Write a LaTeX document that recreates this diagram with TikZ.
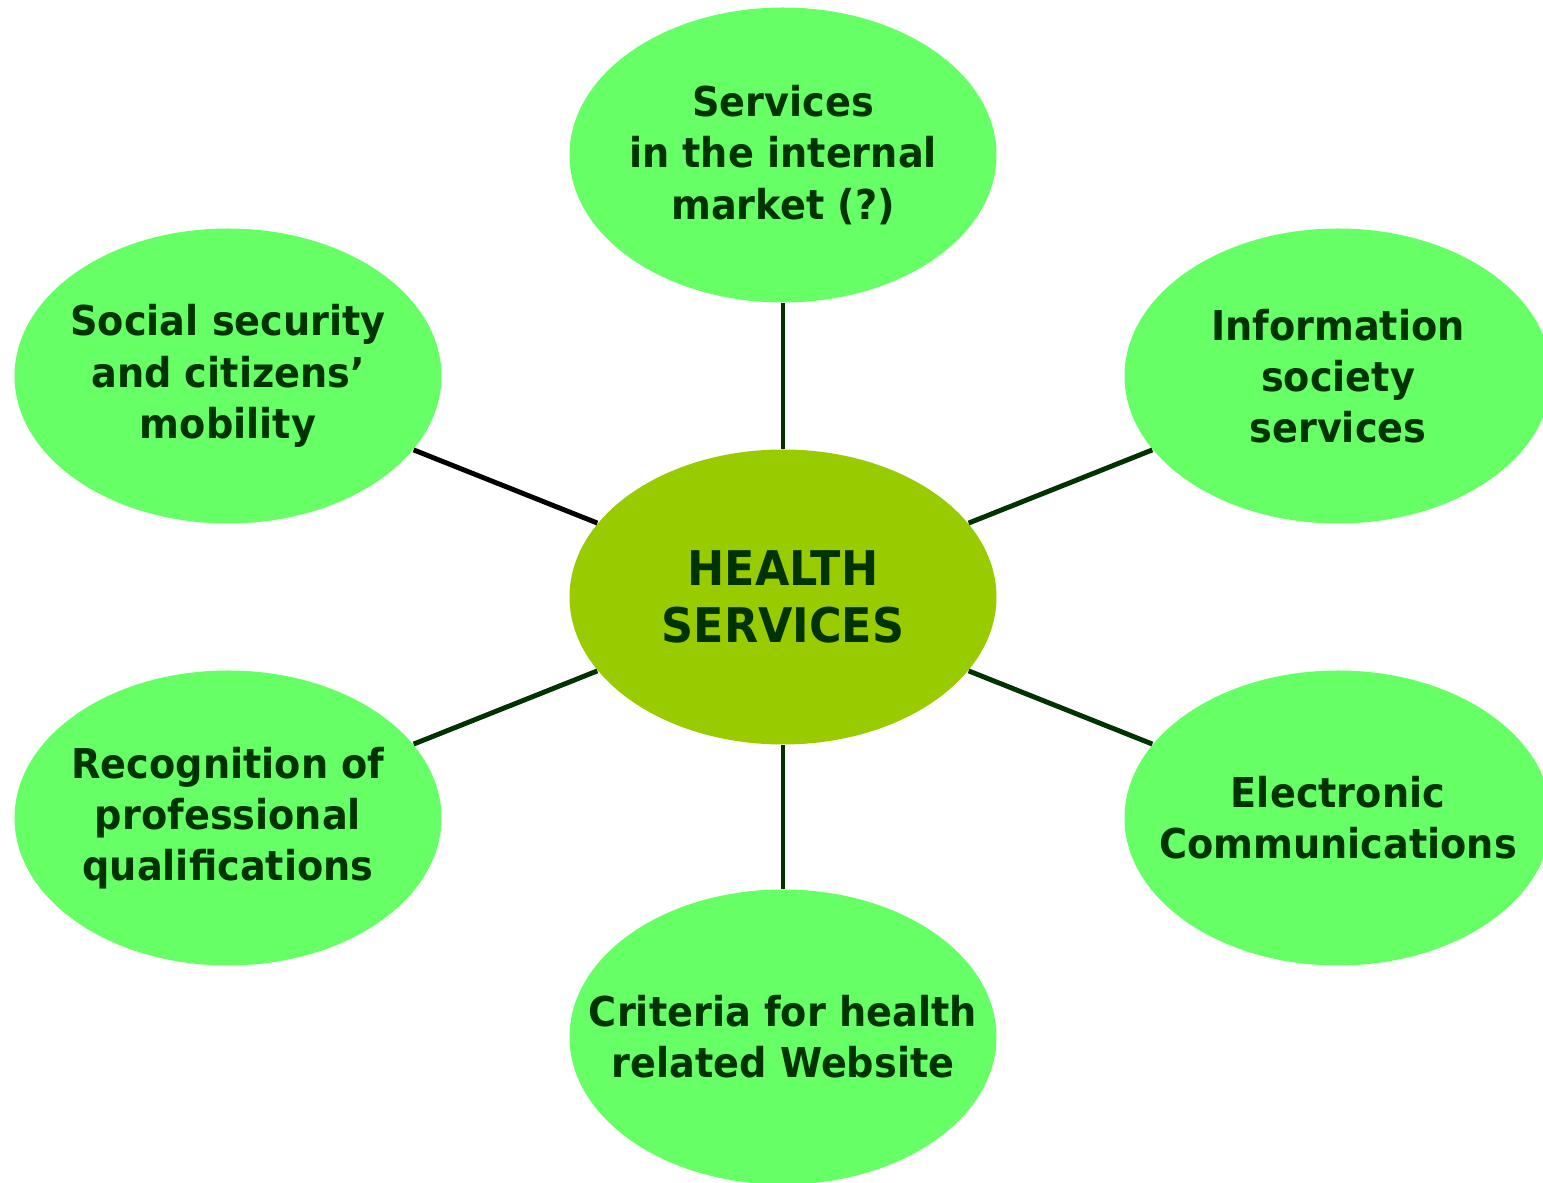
\documentclass[tikz,border=0pt]{standalone}
\usepackage{fontspec}
\setmainfont{DejaVu Sans}[BoldFeatures={FakeStretch=0.93}]
\usepackage{tikz}
\usetikzlibrary{shapes.geometric}

\definecolor{leafgreen}{HTML}{66FF66}
\definecolor{hubgreen}{HTML}{99CC00}
\definecolor{darkgreen}{HTML}{003300}

\begin{document}
\begin{tikzpicture}[
    topic/.style={ellipse, fill=leafgreen, minimum width=4.27cm, minimum height=2.95cm, inner sep=0pt},
    hub/.style={topic, fill=hubgreen},
    topictext/.style={align=center, text=darkgreen, font=\fontsize{11.7}{14.6}\selectfont\bfseries},
    hubtext/.style={align=center, text=darkgreen, font=\fontsize{13.6}{16.4}\selectfont\bfseries},
    link/.style={line width=1.4pt, draw=darkgreen}
  ]
    \useasboundingbox (0,0) rectangle (15.43,11.83);

    % Centre
    \node[hub, label={[hubtext]center:HEALTH\\SERVICES}] (health) at (7.83,5.86) {};

    % Topics round the centre
    \node[topic, label={[topictext]center:Services\\in the internal\\market (?)}] (market) at (7.83,10.28) {};
    \node[topic, label={[topictext]center:Information\\society\\services}] (infosoc) at (13.38,8.07) {};
    \node[topic, label={[topictext]center:Electronic\\Communications}] (ecomm) at (13.38,3.65) {};
    \node[topic, label={[topictext]center:Criteria for health\\related Website}] (website) at (7.83,1.46) {};
    \node[topic, label={[topictext]center:Recognition of\\professional\\qualifications}] (recog) at (2.28,3.65) {};
    \node[topic, label={[topictext]center:Social security\\and citizens’\\mobility}] (social) at (2.28,8.07) {};

    % Links
    \draw[link] (health) -- (market);
    \draw[link] (health) -- (infosoc);
    \draw[link] (health) -- (ecomm);
    \draw[link] (health) -- (website);
    \draw[link] (health) -- (recog);
    \draw[link, draw=black] (health) -- (social);
  \end{tikzpicture}
\end{document}
